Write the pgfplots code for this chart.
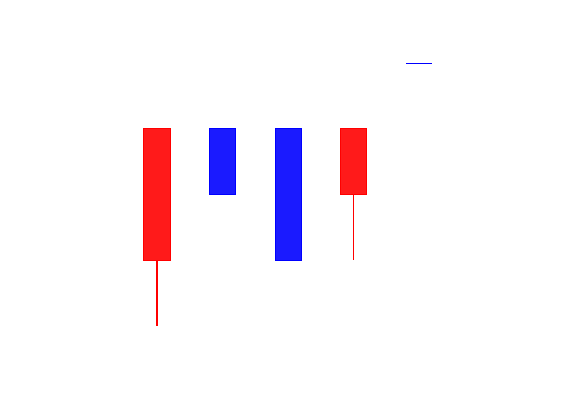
\documentclass[border=0pt]{standalone}
\usepackage{pgfplots}
\pgfplotsset{compat=1.18}
\definecolor{cred}{RGB}{255,26,26}
\definecolor{cblue}{RGB}{26,26,255}
\begin{document}
\begin{tikzpicture}
\begin{axis}[
  hide axis,
  scale only axis,
  width=446.4bp, height=318.9bp,
  xmin=-0.293, xmax=6.512,
  ymin=-0.656, ymax=4.21,
  clip=false,
]
% wicks
\addplot[red, line width=1.6bp] coordinates {(1,0) (1,1)};
\addplot[red, line width=1.6bp] coordinates {(4,1) (4,2)};
% bodies
\addplot[draw=red, fill=cred, line width=0.8bp] coordinates {(0.8,1) (1.2,1) (1.2,3) (0.8,3)} -- cycle;
\addplot[draw=blue, fill=cblue, line width=0.8bp] coordinates {(1.8,2) (2.2,2) (2.2,3) (1.8,3)} -- cycle;
\addplot[draw=blue, fill=cblue, line width=0.8bp] coordinates {(2.8,1) (3.2,1) (3.2,3) (2.8,3)} -- cycle;
\addplot[draw=red, fill=cred, line width=0.8bp] coordinates {(3.8,2) (4.2,2) (4.2,3) (3.8,3)} -- cycle;
% doji
\addplot[blue, line width=1.2bp] coordinates {(4.8,4) (5.2,4)};
\end{axis}
\path (current axis.south west) ++(-72bp,-45.5bp) rectangle ++(576bp,414bp);
\end{tikzpicture}
\end{document}
